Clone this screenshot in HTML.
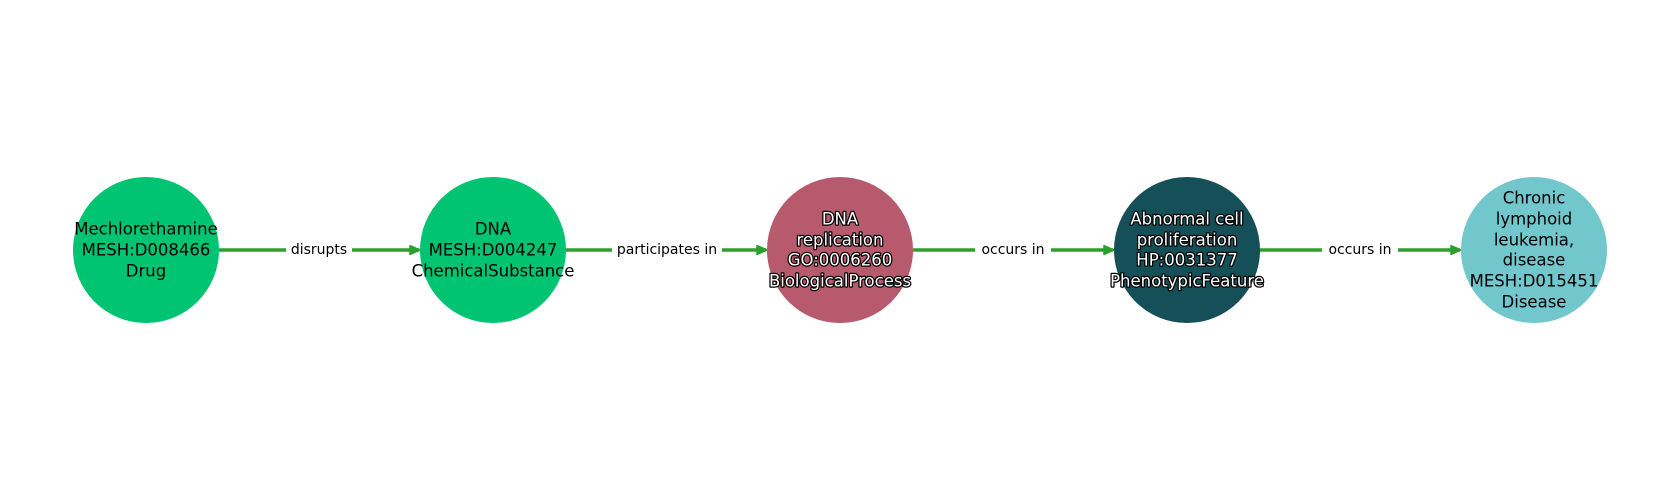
<!DOCTYPE html>
<html><head><meta charset="utf-8"><style>
html,body{margin:0;padding:0;background:#fff;}
svg{display:block;font-family:"DejaVu Sans","Liberation Sans",sans-serif;}
.n{font-size:16.5px;text-anchor:middle;dominant-baseline:central;fill:#000;}
.w{fill:#fff;stroke:#000;stroke-width:2.5px;paint-order:stroke;stroke-linejoin:round;}
.e{font-size:14px;text-anchor:middle;dominant-baseline:central;fill:#000;}
</style></head><body>
<svg width="1680" height="500" viewBox="0 0 1680 500">
<defs><marker id="a" markerWidth="12" markerHeight="12" refX="10" refY="6" orient="auto" markerUnits="userSpaceOnUse"><path d="M1,1.5 L11,6 L1,10.5 z" fill="#2ca02c" stroke="#2ca02c" stroke-width="1.5" stroke-linejoin="round"/></marker></defs>
<g stroke="#2ca02c" stroke-width="3.5" marker-end="url(#a)">
<line x1="219" y1="250" x2="419" y2="250"/>
<line x1="566" y1="250" x2="766" y2="250"/>
<line x1="913" y1="250" x2="1113" y2="250"/>
<line x1="1260" y1="250" x2="1460" y2="250"/>
</g>
<g>
<rect x="286" y="240" width="66" height="20" fill="#fff"/><text class="e" x="319" y="250">disrupts</text>
<rect x="612" y="240" width="110" height="20" fill="#fff"/><text class="e" x="667" y="250">participates in</text>
<rect x="975" y="240" width="76" height="20" fill="#fff"/><text class="e" x="1013" y="250">occurs in</text>
<rect x="1322" y="240" width="76" height="20" fill="#fff"/><text class="e" x="1360" y="250">occurs in</text>
</g>
<circle cx="146" cy="250" r="73" fill="#00c472"/>
<circle cx="493" cy="250" r="73" fill="#00c472"/>
<circle cx="840" cy="250" r="73" fill="#b85a6e"/>
<circle cx="1187" cy="250" r="73" fill="#154f57"/>
<circle cx="1534" cy="250" r="73" fill="#72c7cc"/>
<text class="n" x="146" y="229">Mechlorethamine</text>
<text class="n" x="146" y="250">MESH:D008466</text>
<text class="n" x="146" y="271">Drug</text>
<text class="n" x="493" y="229">DNA</text>
<text class="n" x="493" y="250">MESH:D004247</text>
<text class="n" x="493" y="271">ChemicalSubstance</text>
<text class="n w" x="840" y="219">DNA</text>
<text class="n w" x="840" y="240">replication</text>
<text class="n w" x="840" y="260">GO:0006260</text>
<text class="n w" x="840" y="281">BiologicalProcess</text>
<text class="n w" x="1187" y="219">Abnormal cell</text>
<text class="n w" x="1187" y="240">proliferation</text>
<text class="n w" x="1187" y="260">HP:0031377</text>
<text class="n w" x="1187" y="281">PhenotypicFeature</text>
<text class="n" x="1534" y="198">Chronic</text>
<text class="n" x="1534" y="219">lymphoid</text>
<text class="n" x="1534" y="240">leukemia,</text>
<text class="n" x="1534" y="260">disease</text>
<text class="n" x="1534" y="281">MESH:D015451</text>
<text class="n" x="1534" y="302">Disease</text>
</svg>
</body></html>
